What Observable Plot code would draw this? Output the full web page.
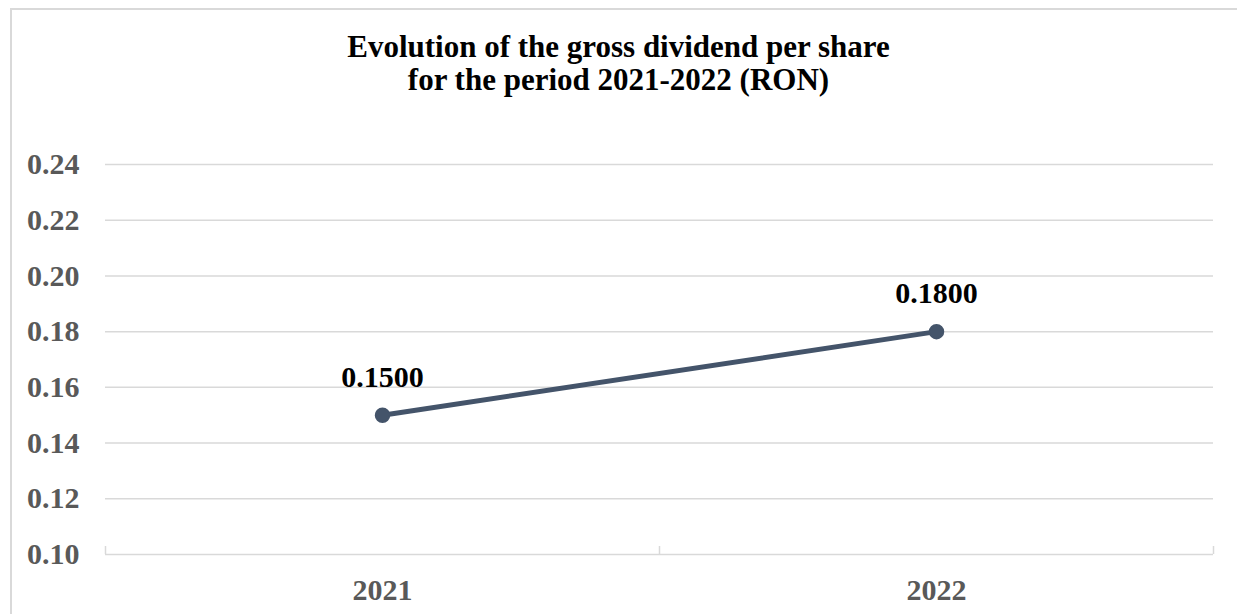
<!DOCTYPE html>
<html>
<head>
<meta charset="utf-8">
<script src="https://cdn.jsdelivr.net/npm/d3@7"></script>
<script src="https://cdn.jsdelivr.net/npm/@observablehq/plot@0.6"></script>
<style>
  html, body { margin: 0; padding: 0; background: #fff; overflow: hidden; }
  #page { position: relative; width: 1237px; height: 614px; overflow: hidden; }
  #frame { position: absolute; left: 10px; top: 8px; width: 1300px; height: 700px; border: 2px solid #d9d9d9; box-sizing: border-box; }
  #title { position: absolute; left: 0; top: 0; width: 1237px; height: 110px; box-sizing: border-box; padding-top: 30px;
           text-align: center; font-family: "Liberation Serif", "Times New Roman", serif; font-weight: bold;
           font-size: 31px; line-height: 33px; color: #000; }
  #chart { position: absolute; left: 0; top: 110px; }
</style>
</head>
<body>
<div id="page">
  <div id="frame"></div>
  <div id="title">Evolution of the gross dividend per share<br>for the period 2021-2022 (RON)</div>
  <div id="chart"></div>
</div>
<script>
const years = [2021, 2022];
const dividends = [0.15, 0.18];
const yTicks = [0.10, 0.12, 0.14, 0.16, 0.18, 0.20, 0.22, 0.24];

const data = years.map((year, i) => ({year, value: dividends[i]}));
const xDomain = [d3.min(years) - 0.5, d3.max(years) + 0.5];
const boundaryTicks = d3.range(xDomain[0], xDomain[1] + 0.01, 1);

const font = '"Liberation Serif", "Times New Roman", serif';
const grid = "#d9d9d9";
const lineColor = "#44546A";

const plot = Plot.plot({
  width: 1237,
  height: 504,
  marginTop: 54,
  marginBottom: 60,
  marginLeft: 105,
  marginRight: 24,
  style: {fontFamily: font, background: "transparent", overflow: "visible"},
  x: {domain: xDomain},
  y: {domain: [d3.min(yTicks), d3.max(yTicks)]},
  marks: [
    Plot.gridY(yTicks, {stroke: grid, strokeOpacity: 1, strokeWidth: 1.5}),
    Plot.axisY(yTicks, {tickSize: 0, tickPadding: 26, tickFormat: d3.format(".2f"),
      fontSize: 30, fontWeight: "bold", fill: "#595959", label: null}),
    Plot.axisX(boundaryTicks, {tickSize: -8, stroke: grid, strokeOpacity: 1, strokeWidth: 1.5, tickFormat: () => "", label: null}),
    Plot.axisX(years, {tickSize: 0, tickPadding: 24, tickFormat: d => String(d),
      fontSize: 30, fontWeight: "bold", fill: "#595959", label: null}),
    Plot.line(data, {x: "year", y: "value", stroke: lineColor, strokeWidth: 5}),
    Plot.dot(data, {x: "year", y: "value", r: 7, fill: lineColor, stroke: lineColor}),
    Plot.text(data, {x: "year", y: "value", text: d => d3.format(".4f")(d.value), dy: -38,
      fontSize: 30, fontWeight: "bold", fill: "#000"})
  ]
});
document.getElementById("chart").appendChild(plot);
</script>
</body>
</html>
